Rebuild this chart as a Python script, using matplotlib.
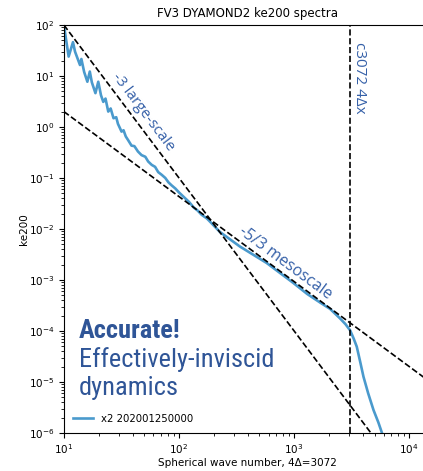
import numpy as np
import matplotlib.pyplot as plt
from matplotlib import font_manager

# spectrum (wavenumber, ke200)
k = [10, 11, 12, 12.5, 13.8, 14.2, 15, 16, 16.8, 17.5, 18.8, 19.9, 21, 22, 23,
     24.3, 25.5, 27, 28.5, 29.5, 31.7, 33, 34.5, 36, 38.7, 41, 44, 47.3, 51, 54,
     58, 62, 66, 70.8, 76, 81, 86, 93, 100, 113, 122, 135, 145, 157, 175, 192,
     227, 339, 579, 986, 1300, 1683, 2055, 2512, 2800, 3072, 3300, 3505, 3750,
     4010, 4400, 4900, 5400, 5800, 6200]
ke = [100, 24, 46, 30, 16.4, 21.5, 12, 7.7, 12.2, 7.5, 4.6, 7.7, 4.2, 3.1, 3.6,
      2.0, 2.3, 1.48, 1.55, 1.15, 0.81, 0.86, 0.65, 0.56, 0.43, 0.42, 0.33, 0.28,
      0.26, 0.21, 0.18, 0.165, 0.13, 0.115, 0.1, 0.082, 0.072, 0.062, 0.052,
      0.04, 0.034, 0.026, 0.023, 0.019, 0.016, 0.0129, 0.0087, 0.0045, 0.00214,
      0.00087, 0.00053, 0.00036, 0.00027, 0.000175, 0.000135, 0.000102,
      0.00007, 0.000049, 0.000025, 0.0000126, 0.000006, 0.0000028, 0.0000016,
      0.000001, 0.0000006]

k_large = [10, 10000]
k_meso = [10, 20000]
dx4 = 3072


def pick_font(cands):
    for fam, stretch in cands:
        fp = font_manager.FontProperties(family=fam, stretch=stretch)
        try:
            path = font_manager.findfont(fp, fallback_to_default=False)
        except ValueError:
            continue
        if stretch == "normal" or "ondensed" in path or "arrow" in path:
            return fam, stretch
    return "DejaVu Sans", "normal"


big_fam, big_stretch = pick_font([("Roboto Condensed", "normal"),
                                  ("Liberation Sans Narrow", "normal"),
                                  ("Roboto", "condensed"),
                                  ("DejaVu Sans", "condensed"),
                                  ("Open Sans", "condensed"),
                                  ("Noto Sans", "condensed")])
big_size = 19 if big_stretch != "normal" or big_fam != "DejaVu Sans" else 15

fig = plt.figure(figsize=(4.23, 4.71), dpi=100)
ax = fig.add_axes([0.151, 0.081, 0.868, 0.866])

ax.loglog(k, ke, color="#4a9acd", lw=1.9, label="x2 202001250000")
ax.loglog(k_large, [1e5 * kk ** -3 for kk in k_large], "k--", lw=1.2)
ax.loglog(k_meso, [2 * (kk / 10) ** (-5 / 3) for kk in k_meso], "k--", lw=1.2)
ax.axvline(dx4, color="k", ls="--", lw=1.2)

ax.set_xlim(10, 10 ** 4.19)
ax.set_ylim(1e-6, 1e2)
ax.spines["right"].set_visible(False)

ax.set_title("FV3 DYAMOND2 ke200 spectra", fontsize=8.5)
ax.set_ylabel("ke200", fontsize=7.5, labelpad=0)
ax.set_xlabel("Spherical wave number, 4\u0394=3072", fontsize=7.5, labelpad=1)
ax.tick_params(labelsize=7.5)

blue = "#3560a8"
ax.text(143, 112, "-3 large-scale", transform=None, fontsize=11, color=blue,
        rotation=-53, ha="center", va="center", family="Open Sans")
ax.text(285, 263, "-5/3 mesoscale", transform=None, fontsize=11.5, color=blue,
        rotation=-36.5, ha="center", va="center", family="Open Sans")
ax.text(359, 78, "c3072 4\u0394x", transform=None, fontsize=11, color=blue,
        rotation=-90, ha="center", va="center", family="Open Sans")

# transform=None texts are in display pixels from bottom; flip y
for t in ax.texts:
    x, y = t.get_position()
    t.set_position((x, 471 - y))

fig.text(79 / 423, 1 - 338 / 471, "Accurate!", fontsize=big_size, fontweight="bold",
         color="#2f5597", family=big_fam, fontstretch=big_stretch, va="baseline")
fig.text(79 / 423, 1 - 367 / 471, "Effectively-inviscid", fontsize=big_size,
         color="#2f5597", family=big_fam, fontstretch=big_stretch, va="baseline")
fig.text(79 / 423, 1 - 395 / 471, "dynamics", fontsize=big_size,
         color="#2f5597", family=big_fam, fontstretch=big_stretch, va="baseline")

ax.legend(loc="lower left", frameon=False, fontsize=7.3)

fig.savefig("out.png", dpi=100)
